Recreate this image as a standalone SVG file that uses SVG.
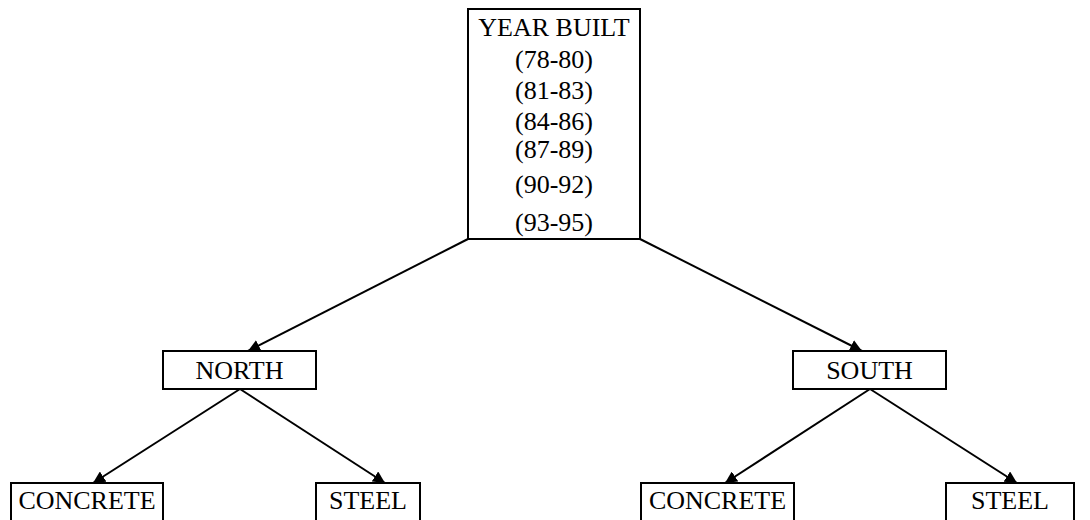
<svg xmlns="http://www.w3.org/2000/svg" width="1090" height="520" viewBox="0 0 1090 520">
<style>
.box{fill:#fff;stroke:#000;stroke-width:2}
.t{font-family:"Liberation Serif","Times New Roman",serif;font-size:26px;fill:#000;text-anchor:middle}
.c{stroke:#000;stroke-width:2;fill:none;marker-end:url(#ah)}
</style>
<defs>
<marker id="ah" viewBox="0 0 10 10" refX="10" refY="5" markerWidth="6" markerHeight="6" orient="auto" markerUnits="strokeWidth">
<path d="M0,0 L10,5 L0,10 z" fill="#000"/>
</marker>
</defs>
<rect width="1090" height="520" fill="#fff"/>
<g id="connectors">
<line class="c" x1="468" y1="239" x2="248" y2="351"/>
<line class="c" x1="640" y1="239" x2="862" y2="351"/>
<line class="c" x1="240" y1="389" x2="93" y2="483"/>
<line class="c" x1="240" y1="389" x2="385" y2="483"/>
<line class="c" x1="870" y1="389" x2="725" y2="483"/>
<line class="c" x1="870" y1="389" x2="1017" y2="483"/>
</g>
<g id="year-built">
<rect class="box" x="468" y="9" width="172" height="230"/>
<text class="t" x="554" y="36">YEAR BUILT</text>
<text class="t" x="554" y="68">(78-80)</text>
<text class="t" x="554" y="99">(81-83)</text>
<text class="t" x="554" y="130">(84-86)</text>
<text class="t" x="554" y="158">(87-89)</text>
<text class="t" x="554" y="193">(90-92)</text>
<text class="t" x="554" y="231">(93-95)</text>
</g>
<g id="north">
<rect class="box" x="163" y="351" width="153" height="38"/>
<text class="t" x="239.5" y="379">NORTH</text>
</g>
<g id="south">
<rect class="box" x="793" y="351" width="153" height="38"/>
<text class="t" x="869.5" y="379">SOUTH</text>
</g>
<g id="concrete-north">
<rect class="box" x="11" y="483" width="152" height="50"/>
<text class="t" x="87" y="509">CONCRETE</text>
</g>
<g id="steel-north">
<rect class="box" x="316" y="483" width="104" height="50"/>
<text class="t" x="368" y="509">STEEL</text>
</g>
<g id="concrete-south">
<rect class="box" x="641" y="483" width="153" height="50"/>
<text class="t" x="717.5" y="509">CONCRETE</text>
</g>
<g id="steel-south">
<rect class="box" x="946" y="483" width="128" height="50"/>
<text class="t" x="1010" y="509">STEEL</text>
</g>
</svg>
